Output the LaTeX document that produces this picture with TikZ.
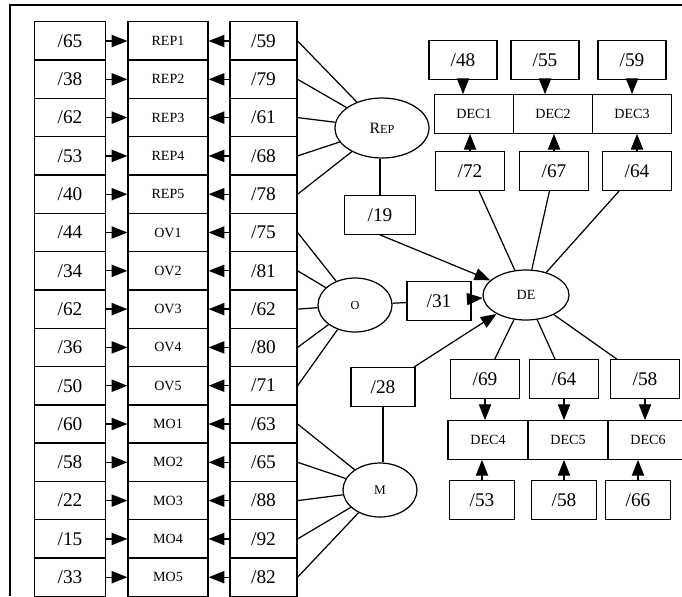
\documentclass[tikz,border=0pt]{standalone}
\usepackage{fontspec}
\setmainfont{Liberation Serif}
\usetikzlibrary{positioning, shapes, arrows.meta}

\tikzset{
  box/.style={draw, inner sep=0pt, minimum height=0.77cm, font=\fontsize{11}{11}\selectfont},
  item/.style={box, minimum width=1.6cm, font=\fontsize{8}{8}\selectfont},
  latent/.style={draw, ellipse, inner sep=0pt},
  arr/.style={-{Triangle[length=9pt,width=7pt]}},
}

\begin{document}
\begin{tikzpicture}[x=0.02cm, y=-0.02cm, line width=0.7pt]
  \useasboundingbox (0,0) rectangle (682,596);
  % frame
  \draw (682,5) -- (10,5) -- (10,596);

  % indicators with their error terms
  \foreach \i/\err/\lab/\load in {0/65/REP1/59, 1/38/REP2/79, 2/62/REP3/61, 3/53/REP4/68, 4/40/REP5/78,
      5/44/OV1/75, 6/34/OV2/81, 7/62/OV3/62, 8/36/OV4/80, 9/50/OV5/71,
      10/60/MO1/63, 11/58/MO2/65, 12/22/MO3/88, 13/15/MO4/92, 14/33/MO5/82} {
    \node[box, minimum width=1.42cm] (e\i) at (70,41+38.3*\i) {/\err};
    \node[item] (v\i) at (168,41+38.3*\i) {\lab};
    \node[box, minimum width=1.34cm] (l\i) at (263.5,41+38.3*\i) {/\load};
    \draw[arr] (e\i) -- (v\i);
    \draw[arr] (l\i) -- (v\i);
  }

  % latent variables
  \node[latent, minimum width=1.88cm, minimum height=1.2cm, font=\fontsize{9}{9}\selectfont] (rep) at (382,128) {R\fontsize{7}{7}\selectfont EP};
  \node[latent, minimum width=1.48cm, minimum height=1.08cm, font=\fontsize{7}{7}\selectfont] (o) at (355,305) {O};
  \node[latent, minimum width=1.48cm, minimum height=1.08cm, font=\fontsize{7.5}{8}\selectfont] (m) at (380,490) {M};
  \node[latent, minimum width=1.72cm, minimum height=1.0cm, font=\fontsize{8}{8}\selectfont] (de) at (526,295) {DE};

  \foreach \i in {0,...,4} \draw (l\i.east) -- (rep);
  \foreach \i in {5,...,9} \draw (l\i.east) -- (o);
  \foreach \i in {10,...,14} \draw (l\i.east) -- (m);

  % paths to DE
  \node[box, minimum width=1.42cm] (p19) at (380,215) {/19};
  \node[box, minimum width=1.28cm] (p31) at (439,301) {/31};
  \node[box, minimum width=1.28cm] (p28) at (383,387) {/28};
  \draw (p19.north) -- (p19.north |- rep.south);
  \draw[arr] (p19.south) -- (de);
  \draw (o) -- (p31);
  \draw[arr] (p31) -- (de);
  \draw (p28.south) -- (p28.south |- m.north);
  \draw[arr] (p28) -- (de);

  % DE indicators, upper row
  \foreach \n/\x/\ux/\dx/\up/\dn in {1/474/463/470/48/72, 2/553/545/554/55/67, 3/632/632/637/59/64} {
    \node[item, minimum width=1.58cm] (dec\n) at (\x,114) {DEC\n};
    \node[box, minimum width=1.36cm] (up\n) at (\ux,60) {/\up};
    \node[box, minimum width=1.38cm] (dn\n) at (\dx,171) {/\dn};
    \draw[arr] (up\n) -- (up\n |- dec\n.north);
    \draw[arr] (dn\n) -- (dn\n |- dec\n.south);
    \draw (dn\n) -- (de);
  }

  % DE indicators, lower row
  \foreach \n/\x/\ux/\dx/\up/\dn in {4/488/485/482/69/53, 5/568/564/564/64/58, 6/648/645/638/58/66} {
    \node[item] (dec\n) at (\x,440) {DEC\n};
    \node[box, minimum width=1.38cm] (up\n) at (\ux,379) {/\up};
    \node[box, minimum width=1.3cm] (dn\n) at (\dx,500) {/\dn};
    \draw[arr] (up\n) -- (up\n |- dec\n.north);
    \draw[arr] (dn\n) -- (dn\n |- dec\n.south);
    \draw (up\n) -- (de);
  }
\end{tikzpicture}
\end{document}
